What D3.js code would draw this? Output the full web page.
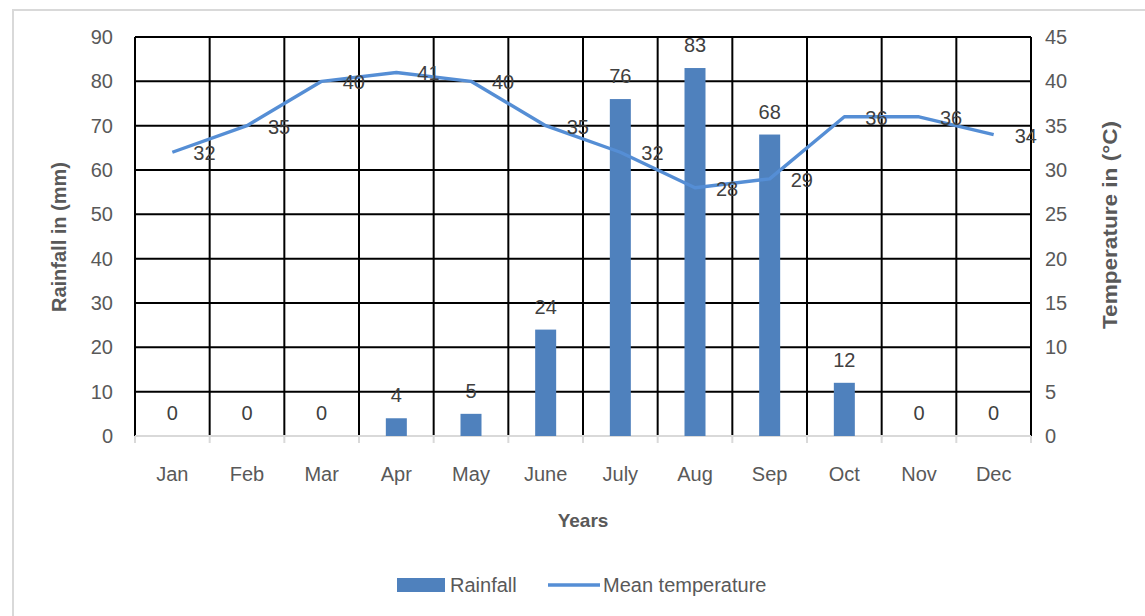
<!DOCTYPE html>
<html>
<head>
<meta charset="utf-8">
<script src="https://cdn.jsdelivr.net/npm/d3@7"></script>
<style>
body{margin:0;background:#fff;}
svg text{font-family:"Liberation Sans Narrow","Arial Narrow","Liberation Sans",sans-serif;}
</style>
</head>
<body>
<div id="chart"></div>
<script>
const months = ["Jan","Feb","Mar","Apr","May","June","July","Aug","Sep","Oct","Nov","Dec"];
const rainfall = [0,0,0,4,5,24,76,83,68,12,0,0];
const temperature = [32,35,40,41,40,35,32,28,29,36,36,34];
const rainTicks = [0,10,20,30,40,50,60,70,80,90];
const tempTicks = [0,5,10,15,20,25,30,35,40,45];

const W = 1145, H = 616;
const m = {left:135, right:1031, top:37, bottom:436};
const grey = "#595959";

const svg = d3.select("#chart").append("svg")
  .attr("width", W).attr("height", H);

// chart frame
svg.append("rect").attr("x",13).attr("y",10).attr("width",1160).attr("height",640)
  .attr("fill","none").attr("stroke","#d9d9d9").attr("stroke-width",2);

const x = d3.scaleBand().domain(months).range([m.left, m.right]);
const yL = d3.scaleLinear().domain([0,90]).range([m.bottom, m.top]);
const yR = d3.scaleLinear().domain([0,45]).range([m.bottom, m.top]);

// horizontal grid
svg.append("g").selectAll("line").data(rainTicks.slice(1)).join("line")
  .attr("x1", m.left).attr("x2", m.right)
  .attr("y1", d => yL(d)).attr("y2", d => yL(d))
  .attr("stroke","#000").attr("stroke-width",2);

// vertical grid at category boundaries
const bounds = months.map(d => x(d)).concat([m.right]);
svg.append("g").selectAll("line").data(bounds).join("line")
  .attr("x1", d => d).attr("x2", d => d)
  .attr("y1", m.top).attr("y2", m.bottom)
  .attr("stroke","#000").attr("stroke-width",2);

// x axis line + ticks
svg.append("line").attr("x1",m.left).attr("x2",m.right)
  .attr("y1",m.bottom).attr("y2",m.bottom)
  .attr("stroke","#d9d9d9").attr("stroke-width",2);
svg.append("g").selectAll("line").data(bounds).join("line")
  .attr("x1", d => d).attr("x2", d => d)
  .attr("y1", m.bottom).attr("y2", m.bottom+7)
  .attr("stroke","#d9d9d9").attr("stroke-width",2);

// bars
const bw = 21;
svg.append("g").selectAll("rect").data(rainfall).join("rect")
  .attr("x",(d,i) => x(months[i]) + x.bandwidth()/2 - bw/2)
  .attr("y", d => yL(d))
  .attr("width", bw)
  .attr("height", d => yL(0) - yL(d))
  .attr("fill","#4f81bd");

// bar labels
svg.append("g").selectAll("text").data(rainfall).join("text")
  .attr("x",(d,i) => x(months[i]) + x.bandwidth()/2)
  .attr("y", d => yL(d) - 16)
  .attr("text-anchor","middle")
  .attr("font-size",20).attr("fill","#404040")
  .text(d => d);

// temperature line
const line = d3.line()
  .x((d,i) => x(months[i]) + x.bandwidth()/2)
  .y(d => yR(d));
svg.append("path").datum(temperature)
  .attr("d", line).attr("fill","none")
  .attr("stroke","#558ed5").attr("stroke-width",3.4)
  .attr("stroke-linejoin","round");

svg.append("g").selectAll("text").data(temperature).join("text")
  .attr("x",(d,i) => x(months[i]) + x.bandwidth()/2 + 21)
  .attr("y", d => yR(d) + 8)
  .attr("font-size",20).attr("fill","#404040")
  .text(d => d);

// left axis labels
svg.append("g").selectAll("text").data(rainTicks).join("text")
  .attr("x",113).attr("y", d => yL(d) + 7)
  .attr("text-anchor","end").attr("font-size",20).attr("fill",grey)
  .text(d => d);

// right axis labels
svg.append("g").selectAll("text").data(tempTicks).join("text")
  .attr("x",1045).attr("y", d => yR(d) + 7)
  .attr("font-size",20).attr("fill",grey)
  .text(d => d);

// x labels
svg.append("g").selectAll("text").data(months).join("text")
  .attr("x", d => x(d) + x.bandwidth()/2)
  .attr("y", 481)
  .attr("text-anchor","middle").attr("font-size",20).attr("fill",grey)
  .text(d => d);

// axis titles
svg.append("text").attr("transform","translate(66,237) rotate(-90)")
  .attr("text-anchor","middle").attr("font-size",20).attr("font-weight","bold").attr("fill",grey)
  .text("Rainfall in (mm)");
svg.append("text").attr("transform","translate(1117,225) rotate(-90)")
  .attr("text-anchor","middle").attr("font-size",21).attr("font-weight","bold").attr("fill",grey)
  .attr("textLength",208).attr("lengthAdjust","spacingAndGlyphs")
  .text("Temperature in (°C)");
svg.append("text").attr("x",583).attr("y",527)
  .attr("text-anchor","middle").attr("font-size",19).attr("font-weight","bold").attr("fill",grey)
  .text("Years");

// legend
const lg = svg.append("g");
lg.append("rect").attr("x",397).attr("y",578).attr("width",48).attr("height",14).attr("fill","#4f81bd");
lg.append("text").attr("x",450).attr("y",592).attr("font-size",20).attr("fill",grey).text("Rainfall");
lg.append("line").attr("x1",548).attr("x2",600).attr("y1",585).attr("y2",585)
  .attr("stroke","#558ed5").attr("stroke-width",3.4);
lg.append("text").attr("x",603).attr("y",592).attr("font-size",20).attr("fill",grey).text("Mean temperature");
</script>
</body>
</html>
